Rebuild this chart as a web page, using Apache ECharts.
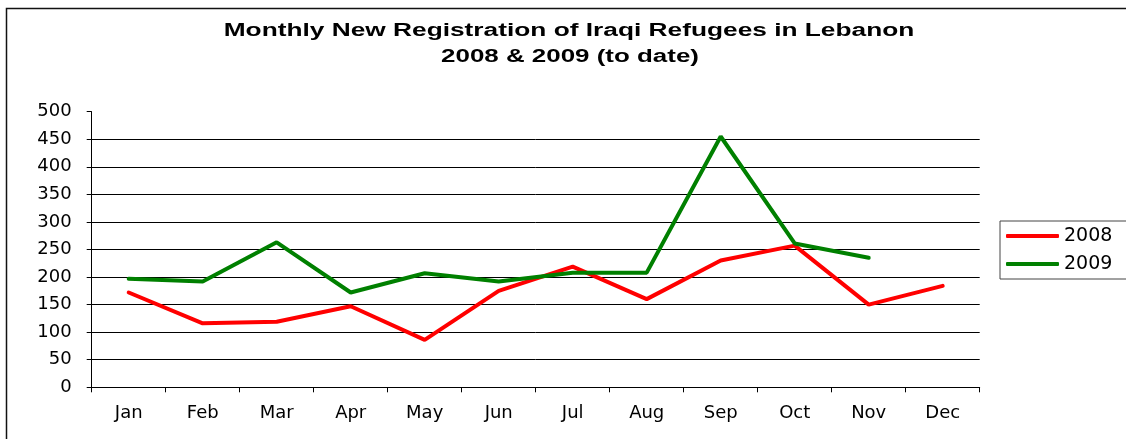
<!DOCTYPE html>
<html>
<head>
<meta charset="utf-8">
<title>Monthly New Registration of Iraqi Refugees in Lebanon</title>
<script src="https://cdn.jsdelivr.net/npm/echarts@6/dist/echarts.min.js"></script>
<style>
  html, body { margin: 0; padding: 0; background: #ffffff; }
  #chart { width: 1126px; height: 439px; }
</style>
</head>
<body>
<div id="chart"></div>
<script>
// Months on the category axis
const months = ['Jan', 'Feb', 'Mar', 'Apr', 'May', 'Jun', 'Jul', 'Aug', 'Sep', 'Oct', 'Nov', 'Dec'];

// New registrations per month
const reg2008 = [172, 116, 119, 147, 86, 175, 219, 160, 230, 257, 150, 184];
const reg2009 = [197, 192, 263, 172, 207, 192, 208, 208, 455, 261, 235, null];

// Title lines
const titleLine1 = 'Monthly New Registration of Iraqi Refugees in Lebanon';
const titleLine2 = '2008 & 2009 (to date)';

const labelFont = 'DejaVu Sans';

const chart = echarts.init(document.getElementById('chart'), null, { renderer: 'canvas' });

chart.setOption({
  animation: false,
  backgroundColor: '#ffffff',
  graphic: [
    {
      type: 'rect',
      silent: true,
      shape: { x: 6.5, y: 8.5, width: 1300, height: 600 },
      style: { fill: 'none', stroke: '#111111', lineWidth: 1.5 },
      z: 0
    },
    {
      type: 'text',
      x: 569, y: 31,
      scaleX: 1.46,
      style: {
        text: titleLine1,
        fontFamily: 'Liberation Sans',
        fontWeight: 'bold',
        fontSize: 18,
        fill: '#000000',
        align: 'center',
        verticalAlign: 'middle'
      }
    },
    {
      type: 'text',
      x: 570, y: 57,
      scaleX: 1.44,
      style: {
        text: titleLine2,
        fontFamily: 'Liberation Sans',
        fontWeight: 'bold',
        fontSize: 18,
        fill: '#000000',
        align: 'center',
        verticalAlign: 'middle'
      }
    }
  ],
  legend: {
    orient: 'vertical',
    left: 1000,
    top: 221,
    padding: [5, 40, 5, 6],
    itemGap: 8,
    itemWidth: 53,
    itemHeight: 4,
    icon: 'roundRect',
    borderColor: '#444444',
    borderWidth: 1,
    backgroundColor: '#ffffff',
    textStyle: { fontFamily: labelFont, fontSize: 19, color: '#000000', lineHeight: 20 },
    data: ['2008', '2009']
  },
  grid: {
    left: 91.7,
    right: 146.3,
    top: 111.7,
    bottom: 51.7,
    containLabel: false
  },
  xAxis: {
    type: 'category',
    data: months,
    boundaryGap: true,
    axisLine: { show: true, lineStyle: { color: '#000000', width: 1 } },
    axisTick: { show: true, interval: 0, length: 5, alignWithLabel: false, lineStyle: { color: '#000000' } },
    axisLabel: { fontFamily: labelFont, fontSize: 18, color: '#000000', margin: 17, interval: 0 },
    splitLine: { show: false }
  },
  yAxis: {
    type: 'value',
    min: 0,
    max: 500,
    interval: 50,
    axisLine: { show: true, lineStyle: { color: '#000000', width: 1 } },
    axisTick: { show: true, length: 5, lineStyle: { color: '#000000' } },
    axisLabel: { fontFamily: labelFont, fontSize: 18, color: '#000000', margin: 20 },
    splitLine: { show: true, showMaxLine: false, lineStyle: { color: '#000000', width: 1 } }
  },
  series: [
    {
      name: '2008',
      type: 'line',
      data: reg2008,
      showSymbol: false,
      symbol: 'none',
      color: '#ff0000',
      lineStyle: { color: '#ff0000', width: 4, cap: 'round' },
      z: 3
    },
    {
      name: '2009',
      type: 'line',
      data: reg2009,
      showSymbol: false,
      symbol: 'none',
      color: '#008000',
      lineStyle: { color: '#008000', width: 4, cap: 'round' },
      z: 4
    }
  ]
});
</script>
</body>
</html>
